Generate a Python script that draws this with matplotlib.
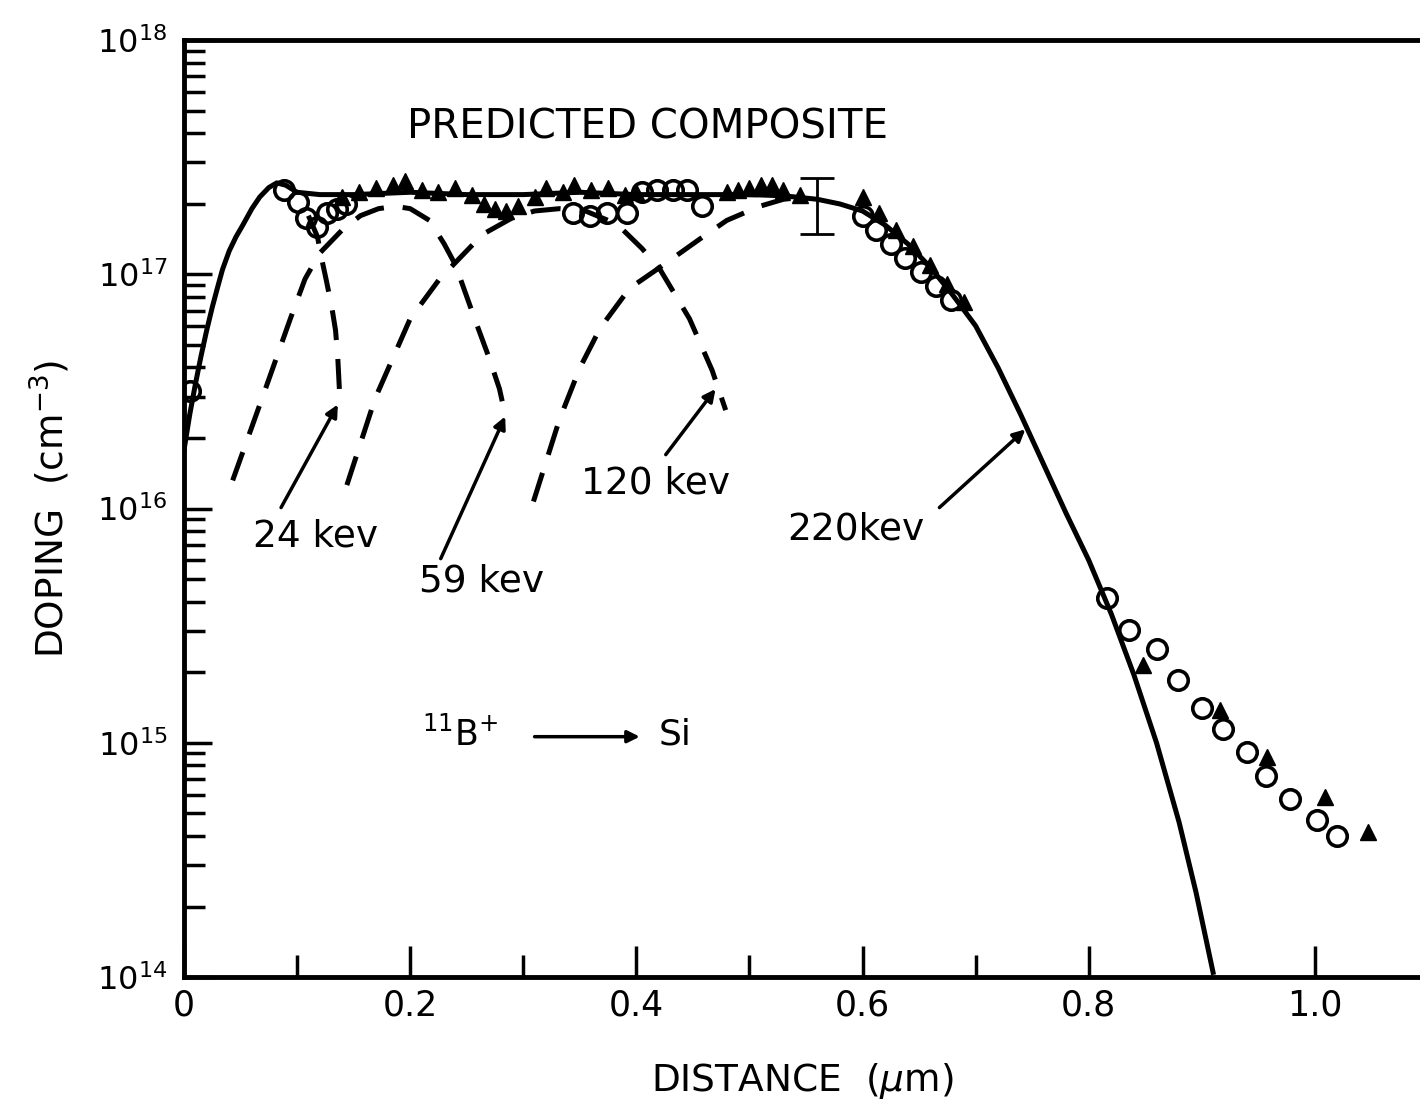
import numpy as np
import matplotlib.pyplot as plt
from matplotlib.ticker import LogLocator, NullFormatter, FixedLocator

plt.rcParams['font.family'] = ['DejaVu Sans']
plt.rcParams['mathtext.fontset'] = 'dejavusans'

# predicted composite (solid), log10 of doping
comp_x = [0, 0.005, 0.01, 0.015, 0.02, 0.025, 0.03, 0.034, 0.04, 0.046, 0.052, 0.06, 0.067, 0.075,
          0.082, 0.09, 0.1, 0.12, 0.15, 0.2, 0.25, 0.3, 0.35, 0.4, 0.45, 0.5, 0.53, 0.56, 0.58,
          0.6, 0.62, 0.64, 0.66, 0.68, 0.70, 0.72, 0.74, 0.76, 0.78, 0.80, 0.82, 0.84, 0.86,
          0.88, 0.895, 0.91]
comp_log = [16.25, 16.40, 16.53, 16.65, 16.76, 16.86, 16.95, 17.02, 17.10, 17.16, 17.21, 17.28, 17.33, 17.37,
            17.39, 17.38, 17.35, 17.34, 17.34, 17.35, 17.34, 17.34, 17.35, 17.34, 17.34, 17.34, 17.335, 17.32, 17.30,
            17.27, 17.21, 17.13, 17.03, 16.91, 16.78, 16.60, 16.40, 16.19, 15.98, 15.78, 15.55, 15.29, 15.00,
            14.66, 14.36, 14.02]

# single-energy profiles (dashed)
kev24_x = [0.11, 0.118, 0.122, 0.126, 0.131, 0.134, 0.136, 0.138]
kev24_log = [17.25, 17.16, 17.06, 16.97, 16.85, 16.76, 16.64, 16.45]
kev59_x = [0.043, 0.069, 0.094, 0.107, 0.12, 0.14, 0.156, 0.172, 0.187, 0.2, 0.217, 0.23,
           0.24, 0.257, 0.27, 0.279, 0.284]
kev59_log = [16.12, 16.47, 16.81, 16.98, 17.09, 17.19, 17.25, 17.28, 17.29, 17.28, 17.23, 17.13,
             17.04, 16.81, 16.64, 16.51, 16.40]
kev120_x = [0.144, 0.169, 0.2, 0.226, 0.24, 0.264, 0.29, 0.31, 0.332, 0.355, 0.375, 0.388,
            0.405, 0.421, 0.447, 0.467, 0.479]
kev120_log = [16.10, 16.47, 16.81, 16.98, 17.05, 17.17, 17.24, 17.27, 17.28, 17.27, 17.23, 17.19,
              17.11, 17.02, 16.81, 16.59, 16.42]
kev220_x = [0.309, 0.332, 0.35, 0.368, 0.394, 0.421, 0.456, 0.48, 0.509, 0.53, 0.55]
kev220_log = [16.03, 16.38, 16.60, 16.77, 16.94, 17.03, 17.15, 17.23, 17.29, 17.32, 17.33]

# measured points
circ_x = [0.005, 0.088, 0.101, 0.108, 0.118, 0.126, 0.135, 0.143,
          0.344, 0.359, 0.374, 0.392, 0.405, 0.418, 0.432, 0.445, 0.458,
          0.60, 0.612, 0.625, 0.638, 0.652, 0.665, 0.678,
          0.816, 0.836, 0.860, 0.879, 0.900, 0.919, 0.940, 0.957, 0.978, 1.002, 1.020]
circ_log = [16.50, 17.36, 17.31, 17.24, 17.20, 17.26, 17.28, 17.30,
            17.26, 17.25, 17.26, 17.26, 17.35, 17.36, 17.36, 17.36, 17.29,
            17.25, 17.19, 17.13, 17.07, 17.01, 16.95, 16.89,
            15.62, 15.48, 15.40, 15.27, 15.15, 15.06, 14.96, 14.86, 14.76, 14.67, 14.60]
tri_x = [0.14, 0.155, 0.17, 0.185, 0.195, 0.21, 0.225, 0.24, 0.255, 0.265, 0.275, 0.285, 0.295,
         0.31, 0.32, 0.335, 0.345, 0.36, 0.375, 0.39, 0.40, 0.48, 0.49, 0.50, 0.51, 0.52, 0.53, 0.545,
         0.60, 0.615, 0.63, 0.645, 0.66, 0.675, 0.69,
         0.848, 0.916, 0.958, 1.009, 1.047]
tri_log = [17.33, 17.35, 17.37, 17.38, 17.40, 17.36, 17.35, 17.37, 17.34, 17.30, 17.28, 17.27, 17.29,
           17.33, 17.37, 17.35, 17.38, 17.36, 17.37, 17.34, 17.35, 17.35, 17.36, 17.37, 17.38, 17.38, 17.36, 17.34,
           17.33, 17.26, 17.19, 17.12, 17.04, 16.96, 16.88,
           15.33, 15.14, 14.94, 14.77, 14.62]

# error bar
err_x = 0.56
err_log = [17.17, 17.29, 17.41]

xticks = [0, 0.2, 0.4, 0.6, 0.8, 1.0]
xtick_labels = ['0', '0.2', '0.4', '0.6', '0.8', '1.0']
xminor = [0.1, 0.3, 0.5, 0.7]
yticks = [1e14, 1e15, 1e16, 1e17, 1e18]

p = lambda v: 10 ** np.array(v)

fig = plt.figure(figsize=(14.2, 11.17), dpi=100)
ax = fig.add_axes([0.1296, 0.1253, 0.8704, 0.8389])

ax.plot(comp_x, p(comp_log), color='k', lw=3.6, zorder=3)
for xs, ls in [(kev24_x, kev24_log), (kev59_x, kev59_log), (kev120_x, kev120_log), (kev220_x, kev220_log)]:
    ax.plot(xs, p(ls), color='k', lw=3.6, dashes=(6, 3.8), zorder=2)

ax.plot(circ_x, p(circ_log), 'o', ms=14, mfc='none', mec='k', mew=2.6, zorder=4)
ax.plot(tri_x, p(tri_log), '^', ms=12, color='k', zorder=4)

el = p(err_log)
ax.errorbar([err_x], [el[1]], yerr=[[el[1] - el[0]], [el[2] - el[1]]], fmt='none',
            ecolor='k', elinewidth=2, capsize=12, capthick=2, zorder=4)

ax.set_yscale('log')
ax.set_xlim(0, 1.093)
ax.set_ylim(1e14, 1e18)

ax.spines['right'].set_visible(False)
for s in ['left', 'bottom', 'top']:
    ax.spines[s].set_linewidth(3.5)

ax.set_xticks(xticks)
ax.set_xticklabels(xtick_labels)
ax.xaxis.set_minor_locator(FixedLocator(xminor))
ax.set_yticks(yticks)
ax.set_yticklabels([r'$10^{%d}$' % e for e in range(14, 19)])
ax.yaxis.set_minor_locator(LogLocator(base=10, subs=np.arange(2, 10), numticks=20))
ax.yaxis.set_minor_formatter(NullFormatter())

ax.tick_params(axis='both', which='both', direction='in', top=False, right=False)
ax.tick_params(axis='x', which='major', length=22, width=2.5, labelsize=25, pad=8)
ax.tick_params(axis='x', which='minor', length=16, width=2.5)
ax.tick_params(axis='y', which='major', length=20, width=2.5, labelsize=23, pad=12)
ax.tick_params(axis='y', which='minor', length=15, width=2.5)

ax.set_xlabel(r'DISTANCE  ($\mu$m)', fontsize=27, labelpad=28)
ax.set_ylabel(r'DOPING  (cm$^{-3}$)', fontsize=27, labelpad=18)

ax.text(0.410, 10 ** 17.628, 'PREDICTED COMPOSITE', fontsize=29, ha='center', va='center')

arr = dict(arrowstyle='-|>', lw=2.5, color='k', mutation_scale=18, shrinkA=0, shrinkB=0)
labels = [('24 kev', (0.116, 15.88), (0.0858, 16.004), (0.136, 16.444)),
          ('59 kev', (0.263, 15.69), (0.227, 15.786), (0.284, 16.393)),
          ('120 kev', (0.417, 16.107), (0.426, 16.23), (0.470, 16.51)),
          ('220kev', (0.594, 15.91), (0.668, 16.004), (0.744, 16.338))]
for txt, tpos, tail, tip in labels:
    ax.text(tpos[0], 10 ** tpos[1], txt, fontsize=27, ha='center', va='center')
    ax.annotate('', xy=(tip[0], 10 ** tip[1]), xytext=(tail[0], 10 ** tail[1]), arrowprops=arr)

ax.text(0.244, 10 ** 15.034, r'$^{11}$B$^{+}$', fontsize=25, ha='center', va='center')
ax.annotate('', xy=(0.403, 10 ** 15.026), xytext=(0.310, 10 ** 15.026), arrowprops=arr)
ax.text(0.434, 10 ** 15.034, 'Si', fontsize=26, ha='center', va='center')

fig.savefig('out.png', dpi=100)
